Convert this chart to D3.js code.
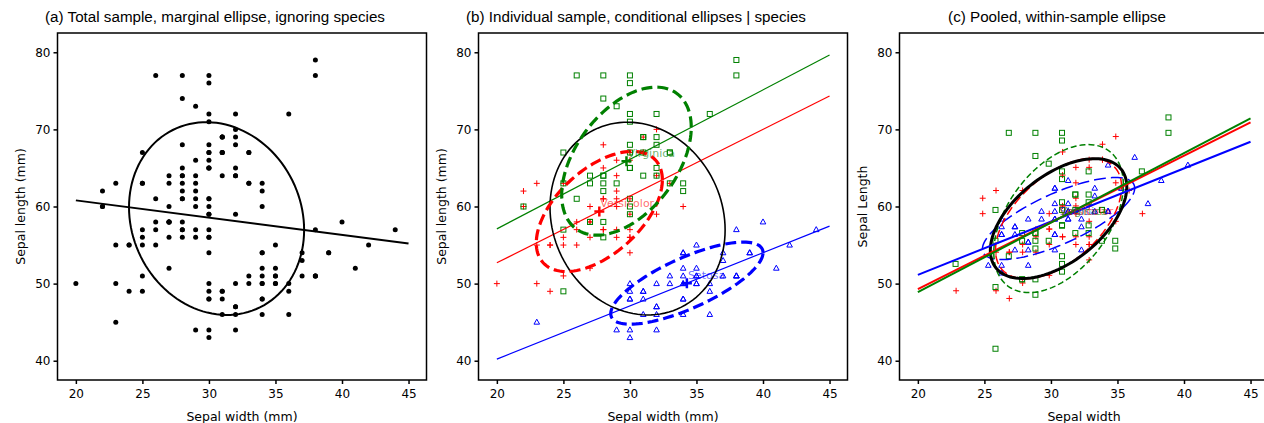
<!DOCTYPE html>
<html><head><meta charset="utf-8">
<script src="https://cdn.jsdelivr.net/npm/d3@7"></script>
<style>
body{margin:0;background:#fff}
text{font-family:"DejaVu Sans",sans-serif;fill:#000}
</style>
</head><body><script>
// iris sepal data, in mm
let setosaW = [35,30,32,31,36,39,34,34,29,31,37,34,30,30,40,44,39,35,38,38,34,37,36,33,34,30,34,35,34,32,31,34,41,42,31,32,35,36,30,34,35,23,32,35,38,30,38,32,37,33];
let setosaL = [51,49,47,46,50,54,46,50,44,49,54,48,48,43,58,57,54,51,57,51,54,51,46,51,48,50,50,52,52,47,48,54,52,55,49,50,55,49,44,51,50,45,44,50,51,48,51,46,53,50];
let versiW = [32,32,31,23,28,28,33,24,29,27,20,30,22,29,29,31,30,27,22,25,32,28,25,28,29,30,28,30,29,26,24,24,27,27,30,34,31,23,30,25,26,30,26,23,27,30,29,29,25,28];
let versiL = [70,64,69,55,65,57,63,49,66,52,50,59,60,61,56,67,56,58,62,56,59,61,63,61,64,66,68,67,60,57,55,55,58,60,54,60,67,63,56,55,55,61,58,50,56,57,57,62,51,57];
let virgW = [33,27,30,29,30,30,25,29,25,36,32,27,30,25,28,32,30,38,26,22,32,28,28,27,33,32,28,30,28,30,28,38,28,28,26,30,34,31,30,31,31,31,27,32,33,30,25,30,34,30];
let virgL = [63,58,71,63,65,76,49,73,67,72,65,64,68,57,58,64,65,77,77,60,69,56,77,63,67,72,62,61,64,72,74,79,64,63,61,77,63,64,60,69,67,69,58,68,67,67,63,65,62,59];

let speciesNames = ['Setosa', 'Versicolor', 'Virginica'];
let xTicks = [20, 25, 30, 35, 40, 45];
let yTicks = [40, 50, 60, 70, 80];
let titles = ['(a) Total sample, marginal ellipse, ignoring species',
  '(b) Individual sample, conditional ellipses | species',
  '(c) Pooled, within-sample ellipse'];
let xLabels = ['Sepal width  (mm)', 'Sepal width  (mm)', 'Sepal width'];
let yLabels = ['Sepal length (mm)', 'Sepal length (mm)', 'Sepal Length'];

let colors = ['#0000ff', '#ff0000', '#008000'];
let shapes = ['triangle', 'plus', 'square'];
let groups = [
  { w: setosaW, l: setosaL },
  { w: versiW, l: versiL },
  { w: virgW, l: virgL }
];

// 68% data ellipse radius
let radius = Math.sqrt(-2 * Math.log(0.32));

function stats(xs, ys) {
  let n = xs.length, mx = d3.mean(xs), my = d3.mean(ys);
  let sxx = 0, syy = 0, sxy = 0;
  for (let i = 0; i < n; i++) {
    sxx += (xs[i] - mx) ** 2;
    syy += (ys[i] - my) ** 2;
    sxy += (xs[i] - mx) * (ys[i] - my);
  }
  return { n: n, mx: mx, my: my, sxx: sxx, syy: syy, sxy: sxy,
    cxx: sxx / (n - 1), cyy: syy / (n - 1), cxy: sxy / (n - 1) };
}

function ellipsePts(mx, my, cxx, cxy, cyy) {
  let l11 = Math.sqrt(cxx), l21 = cxy / l11, l22 = Math.sqrt(cyy - l21 * l21);
  return d3.range(0, 121).map(function (i) {
    let t = i / 120 * 2 * Math.PI;
    return [mx + radius * l11 * Math.cos(t), my + radius * (l21 * Math.cos(t) + l22 * Math.sin(t))];
  });
}

let allW = setosaW.concat(versiW, virgW);
let allL = setosaL.concat(versiL, virgL);
let total = stats(allW, allL);
let gStats = groups.map(function (g) { return stats(g.w, g.l); });

// pooled within-group covariance
let dfw = d3.sum(gStats, function (s) { return s.n - 1; });
let pooled = {
  cxx: d3.sum(gStats, function (s) { return s.sxx; }) / dfw,
  cyy: d3.sum(gStats, function (s) { return s.syy; }) / dfw,
  cxy: d3.sum(gStats, function (s) { return s.sxy; }) / dfw
};

let width = 1264, height = 423;
let svg = d3.select('body').append('svg').attr('width', width).attr('height', height);

let boxW = 369, plotTop = 33, plotBottom = 380;
let panelLeft = [57.5, 478.5, 899.5];

function makePanel(k) {
  let left = panelLeft[k];
  let x = d3.scaleLinear().domain([18.62, 46.35]).range([left, left + boxW]);
  let y = d3.scaleLinear().domain([37.5, 82.5]).range([plotBottom, plotTop]);
  let g = svg.append('g');

  g.append('clipPath').attr('id', 'clip' + k).append('rect')
    .attr('x', left).attr('y', plotTop).attr('width', boxW).attr('height', plotBottom - plotTop);

  g.append('text').attr('x', left + boxW / 2 - 27).attr('y', 22)
    .attr('text-anchor', 'middle').style('font-family', '"Liberation Sans", Arial, sans-serif')
    .style('font-size', '15.2px').text(titles[k]);

  let xAxis = d3.axisBottom(x).tickValues(xTicks).tickSize(4).tickPadding(5);
  let yAxis = d3.axisLeft(y).tickValues(yTicks).tickSize(4).tickPadding(3);
  let ax = g.append('g').attr('transform', 'translate(0,' + plotBottom + ')').call(xAxis);
  let ay = g.append('g').attr('transform', 'translate(' + left + ',0)').call(yAxis);
  [ax, ay].forEach(function (a) {
    a.select('.domain').remove();
    a.selectAll('line').attr('stroke', '#000').attr('stroke-width', 1.5);
    a.selectAll('text').style('font-size', '12px').style('font-family', '"DejaVu Sans"');
  });

  g.append('text').attr('x', left + boxW / 2).attr('y', 421)
    .attr('text-anchor', 'middle').style('font-size', '12.5px').text(xLabels[k]);
  g.append('text').attr('transform', 'translate(' + (left - 33) + ',' + ((plotTop + plotBottom) / 2) + ') rotate(-90)')
    .attr('text-anchor', 'middle').style('font-size', '12.5px').text(yLabels[k]);

  let plot = g.append('g').attr('clip-path', 'url(#clip' + k + ')');
  return { g: g, plot: plot, x: x, y: y, left: left };
}

function drawFrame(p) {
  p.g.append('rect').attr('x', p.left).attr('y', plotTop).attr('width', boxW).attr('height', plotBottom - plotTop)
    .attr('fill', 'none').attr('stroke', '#000').attr('stroke-width', 1.5);
}

function marker(sel, shape, color, px, py) {
  if (shape === 'square') {
    sel.append('rect').attr('x', px - 2.5).attr('y', py - 2.5).attr('width', 5).attr('height', 5)
      .attr('fill', 'none').attr('stroke', color).attr('stroke-width', 1);
  } else if (shape === 'triangle') {
    sel.append('path').attr('d', 'M' + px + ',' + (py - 3) + 'L' + (px + 2.8) + ',' + (py + 2) + 'L' + (px - 2.8) + ',' + (py + 2) + 'Z')
      .attr('fill', 'none').attr('stroke', color).attr('stroke-width', 1);
  } else {
    sel.append('path').attr('d', 'M' + (px - 3) + ',' + py + 'H' + (px + 3) + 'M' + px + ',' + (py - 3) + 'V' + (py + 3))
      .attr('fill', 'none').attr('stroke', color).attr('stroke-width', 1);
  }
}

function drawEllipse(p, pts, color, w, dash) {
  let line = d3.line().x(function (d) { return p.x(d[0]); }).y(function (d) { return p.y(d[1]); });
  p.plot.append('path').attr('d', line(pts)).attr('fill', 'none')
    .attr('stroke', color).attr('stroke-width', w).attr('stroke-dasharray', dash || null);
}

function drawRegLine(p, mx, my, slope, color, w) {
  p.plot.append('line')
    .attr('x1', p.x(20)).attr('y1', p.y(my + slope * (20 - mx)))
    .attr('x2', p.x(45)).attr('y2', p.y(my + slope * (45 - mx)))
    .attr('stroke', color).attr('stroke-width', w);
}

function drawCentre(p, mx, my, color, name, cross) {
  let cx = p.x(mx), cy = p.y(my);
  if (cross) {
    p.plot.append('path').attr('d', 'M' + (cx - 5) + ',' + cy + 'H' + (cx + 5) + 'M' + cx + ',' + (cy - 5) + 'V' + (cy + 5))
      .attr('stroke', color).attr('stroke-width', 2.5);
  }
  p.plot.append('text').attr('x', cx + 1).attr('y', cy - 4).style('font-size', '11px')
    .style('fill', color).style('fill-opacity', 0.6).text(name);
}

// (a) total sample
let pa = makePanel(0);
allW.forEach(function (w, i) {
  pa.plot.append('circle').attr('cx', pa.x(w)).attr('cy', pa.y(allL[i])).attr('r', 2.5).attr('fill', '#000');
});
drawRegLine(pa, total.mx, total.my, total.sxy / total.sxx, '#000', 2);
drawEllipse(pa, ellipsePts(total.mx, total.my, total.cxx, total.cxy, total.cyy), '#000', 2);
drawFrame(pa);

// (b) conditional ellipses by species
let pb = makePanel(1);
groups.forEach(function (g, k) {
  g.w.forEach(function (w, i) { marker(pb.plot, shapes[k], colors[k], pb.x(w), pb.y(g.l[i])); });
});
groups.forEach(function (g, k) {
  let s = gStats[k];
  drawRegLine(pb, s.mx, s.my, s.sxy / s.sxx, colors[k], 1.2);
});
drawEllipse(pb, ellipsePts(total.mx, total.my, total.cxx, total.cxy, total.cyy), '#000', 1.6);
groups.forEach(function (g, k) {
  let s = gStats[k];
  drawEllipse(pb, ellipsePts(s.mx, s.my, s.cxx, s.cxy, s.cyy), colors[k], 3.2, '11,5');
  drawCentre(pb, s.mx, s.my, colors[k], speciesNames[k], true);
});
drawFrame(pb);

// (c) pooled within-sample, groups centred on grand mean
let pc = makePanel(2);
let cDash = ['12,5', '9,4', '6,3'];
groups.forEach(function (g, k) {
  let s = gStats[k];
  g.w.forEach(function (w, i) {
    let cw = w - s.mx + total.mx;
    if (cw < xTicks[0]) return; // outside the axis range, not shown
    marker(pc.plot, shapes[k], colors[k], pc.x(cw), pc.y(g.l[i] - s.my + total.my));
  });
});
groups.forEach(function (g, k) {
  let s = gStats[k];
  drawEllipse(pc, ellipsePts(total.mx, total.my, s.cxx, s.cxy, s.cyy), colors[k], 1.5, cDash[k]);
});
drawEllipse(pc, ellipsePts(total.mx, total.my, pooled.cxx, pooled.cxy, pooled.cyy), '#000', 3);
groups.forEach(function (g, k) {
  let s = gStats[k];
  drawRegLine(pc, total.mx, total.my, s.sxy / s.sxx, colors[k], 2);
});
groups.forEach(function (g, k) {
  drawCentre(pc, total.mx, total.my, colors[k], speciesNames[k], false);
});
drawFrame(pc);
</script></body></html>
